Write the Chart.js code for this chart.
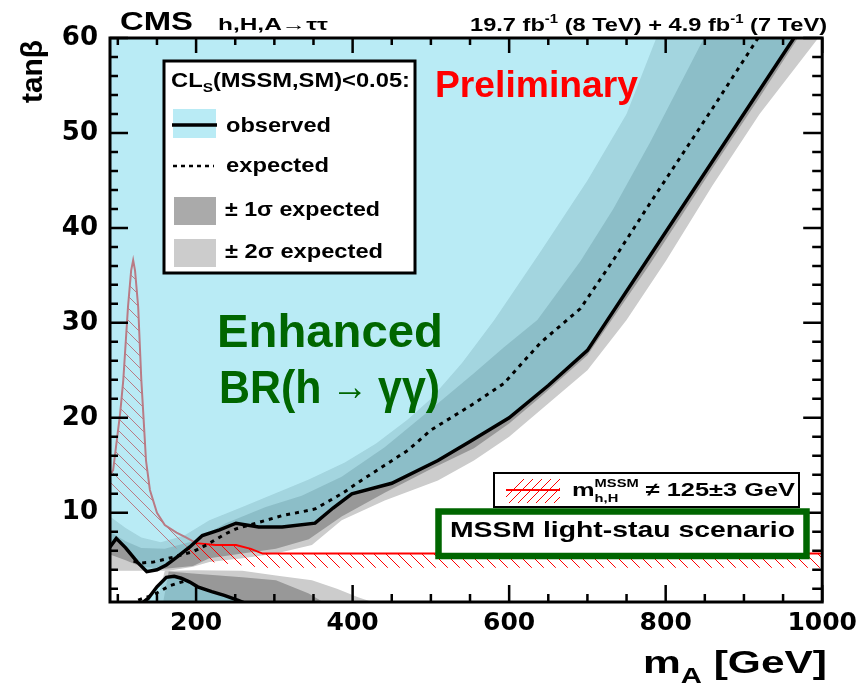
<!DOCTYPE html>
<html>
<head>
<meta charset="utf-8">
<script src="https://cdn.jsdelivr.net/npm/chart.js@4.4.1/dist/chart.umd.min.js"></script>
<style>
  html, body { margin: 0; padding: 0; background: #fff; }
  #wrap { width: 863px; height: 686px; }
</style>
</head>
<body>
<div id="wrap"><canvas id="chart" width="863" height="686"></canvas></div>
<script>
// ---- axis ranges / ticks ----
const X_MIN = 90, X_MAX = 1000, Y_MIN = 0.6, Y_MAX = 60;
const xTicks = [200, 400, 600, 800, 1000];
const yTicks = [10, 20, 30, 40, 50, 60];

// ---- observed exclusion contour (upper branch, excluded above) ----
const obsX = [90, 98, 110, 125, 137, 150, 162, 175, 192, 208, 230, 251, 280, 310, 352, 375, 399, 450, 509, 550, 600, 650, 700, 1000];
const obsY = [6.4, 7.3, 6.3, 4.8, 3.8, 4.0, 4.5, 5.3, 6.4, 7.6, 8.2, 8.9, 8.5, 8.5, 8.9, 10.5, 12.0, 13.1, 15.5, 17.5, 20.0, 23.4, 27.1, 64.5];

// observed, low tanβ island (excluded below)
const obsLoX = [128, 139, 150, 162, 172, 181, 192, 202, 220, 236, 253, 265];
const obsLoY = [0.3, 1.0, 2.2, 3.2, 3.3, 3.1, 2.7, 2.2, 1.7, 1.3, 0.8, 0.4];

// ---- expected ----
const expX = [120, 128, 145, 170, 196, 213, 238, 251, 289, 310, 335, 352, 386, 411, 441, 471, 500, 555, 593, 640, 691, 733, 780, 860, 918, 1000];
const expY = [4.9, 4.7, 4.8, 5.3, 5.9, 6.6, 7.8, 8.3, 9.2, 9.7, 10.1, 10.4, 12.0, 13.4, 15.0, 16.6, 18.7, 21.5, 23.6, 27.9, 31.5, 36.6, 42.6, 52.6, 60.0, 70.5];
const expLoX = [126, 140, 151, 166, 177, 190];
const expLoY = [0.8, 1.2, 1.6, 2.3, 2.6, 2.9];

// ---- expected bands, upper branch ----
const b2HiX = [90, 110, 130, 155, 185, 217, 259, 300, 344, 390, 430, 470, 500, 540, 581, 640, 700, 750, 788, 850];
const b2HiY = [9.6, 8.4, 7.4, 6.9, 7.6, 9.2, 10.6, 12.0, 13.5, 15.3, 17.3, 19.8, 22.0, 25.8, 30.3, 37.5, 45.0, 52.0, 60.0, 70.0];
const b1HiX = [90, 110, 130, 160, 196, 238, 289, 335, 386, 441, 500, 555, 593, 636, 691, 733, 780, 849, 900];
const b1HiY = [8.0, 7.0, 6.3, 6.2, 7.0, 8.9, 10.6, 11.8, 13.8, 16.9, 20.9, 24.7, 27.4, 30.3, 36.5, 42.0, 49.0, 60.0, 68.0];
const b1LoX = [90, 110, 130, 160, 196, 217, 259, 302, 344, 386, 441, 500, 555, 600, 640, 700, 780, 860, 918, 969, 1010];
const b1LoY = [5.6, 5.0, 4.3, 4.1, 4.4, 5.2, 5.7, 6.2, 7.2, 9.6, 12.1, 14.6, 16.8, 19.4, 22.2, 26.6, 36.2, 46.3, 53.5, 60.0, 65.0];
const b2LoX = [90, 110, 130, 165, 196, 217, 259, 302, 348, 386, 441, 509, 555, 600, 650, 700, 750, 800, 860, 920, 995, 1040];
const b2LoY = [3.9, 3.9, 3.9, 3.9, 4.3, 4.8, 5.2, 5.7, 6.6, 9.2, 11.3, 13.4, 15.5, 18.0, 21.5, 25.0, 30.3, 36.5, 44.5, 52.0, 60.0, 65.0];

// ---- expected bands, low tanβ branch (top edges, filled to the axis) ----
const lo2X = [150, 160, 200, 259, 302, 348, 380, 407, 425];
const lo2Y = [0.6, 3.9, 3.95, 3.9, 3.4, 2.9, 2.0, 1.1, 0.6];
const lo1X = [158, 165, 196, 259, 302, 344, 362];
const lo1Y = [0.6, 3.8, 3.6, 3.2, 2.9, 1.5, 0.6];

// ---- m_h != 125±3 GeV region ----
const mhTopX = [90, 94, 103, 107, 113, 117, 119.6, 122, 126, 130, 132, 136, 141, 150, 160, 175, 187, 200, 225, 251, 270, 285, 1000];
const mhTopY = [14.0, 14.5, 20.5, 24.0, 31.7, 35.5, 36.6, 35.5, 31.7, 24.0, 21.2, 15.5, 12.4, 10.0, 8.7, 7.9, 7.4, 6.8, 6.6, 6.6, 6.2, 5.7, 5.7];
const mhBotX = [90, 120, 150, 200, 285, 1000];
const mhBotY = [12.5, 10.0, 7.5, 5.0, 4.2, 4.2];

// colours
const CYAN = 'rgba(130,219,237,0.56)';
const CYAN_SOLID = '#b9ebf5';
const GREY2 = '#cccccc';
const GREY1 = '#989898';
const GREY1_KEY = '#aaaaaa';
const RED = '#ff0000';
const GREEN = '#006600';
const FONT = '"Liberation Sans", Arial, sans-serif';

// ---- helpers ----
function pts(xs, ys) { return xs.map((x, i) => ({ x, y: ys[i] })); }
function band(hiX, hiY, loX, loY) { return pts(hiX, hiY).concat(pts(loX, loY).reverse()); }
function toAxis(xs, ys) {
  return pts(xs, ys).concat([{ x: xs[xs.length - 1], y: -1 }, { x: xs[0], y: -1 }]);
}
function above(xs, ys) {
  return pts(xs, ys).concat([{ x: xs[xs.length - 1], y: 80 }, { x: xs[0], y: 80 }]);
}

function hatchPattern(ctx) {
  const s = 12;
  const c = document.createElement('canvas');
  c.width = s; c.height = s;
  const g = c.getContext('2d');
  g.strokeStyle = RED;
  g.lineWidth = 1;
  g.beginPath();
  g.moveTo(0, 0); g.lineTo(s, s);
  g.moveTo(-2, s - 2); g.lineTo(2, s + 2);
  g.moveTo(s - 2, -2); g.lineTo(s + 2, 2);
  g.stroke();
  return ctx.createPattern(c, 'repeat');
}

const area = (label, data, color, order) => ({
  label, data, order, fill: 'shape', backgroundColor: color,
  borderColor: 'rgba(0,0,0,0)', borderWidth: 0, pointRadius: 0
});
const curve = (label, data, color, width, dash, order) => ({
  label, data, order, fill: false, borderColor: color, borderWidth: width,
  borderDash: dash, borderCapStyle: 'butt', pointRadius: 0
});

// text drawn in bold, squeezed/stretched to sit between left and right
function rich(ctx, parts, left, right, base, color) {
  let w = 0;
  for (const p of parts) {
    ctx.font = `${p.w || 'bold'} ${p.size}px ${FONT}`;
    if (!p.stack) w += ctx.measureText(p.t).width;
  }
  ctx.save();
  ctx.translate(left, base);
  ctx.scale((right - left) / w, 1);
  ctx.fillStyle = color;
  ctx.textAlign = 'left';
  ctx.textBaseline = 'alphabetic';
  let cx = 0;
  for (const p of parts) {
    ctx.font = `${p.w || 'bold'} ${p.size}px ${FONT}`;
    ctx.fillText(p.t, cx, p.dy || 0);
    if (!p.stack) cx += ctx.measureText(p.t).width;
  }
  ctx.restore();
}

// frame with inward ticks, legends and labels
const decorations = {
  id: 'decorations',
  afterDraw(chart) {
    const { ctx, chartArea: a, scales: { x, y } } = chart;
    ctx.save();

    ctx.strokeStyle = '#000';
    ctx.lineWidth = 2.5;
    ctx.beginPath();
    for (let v = 100; v <= X_MAX; v += 50) {
      const px = x.getPixelForValue(v);
      const major = v % 200 === 0;
      ctx.moveTo(px, a.bottom); ctx.lineTo(px, a.bottom - (major ? 17 : 8));
      ctx.moveTo(px, a.top); ctx.lineTo(px, a.top + (major ? 15 : 7));
    }
    for (let v = 2; v <= Y_MAX; v += 2) {
      const py = y.getPixelForValue(v);
      const major = v % 10 === 0;
      ctx.moveTo(a.left, py); ctx.lineTo(a.left + (major ? 18 : 8), py);
      ctx.moveTo(a.right, py); ctx.lineTo(a.right - (major ? 19 : 10), py);
    }
    ctx.stroke();
    ctx.lineWidth = 3;
    ctx.strokeRect(a.left, a.top, a.right - a.left, a.bottom - a.top);

    // header
    rich(ctx, [{ t: 'CMS', size: 25 }], 120, 193, 30, '#000');
    rich(ctx, [{ t: 'h,H,A\u2192\u03c4\u03c4', size: 16 }], 218, 328, 30, '#000');
    rich(ctx, [
      { t: '19.7 fb', size: 19 }, { t: '-1', size: 12, dy: -8 },
      { t: ' (8 TeV) + 4.9 fb', size: 19 }, { t: '-1', size: 12, dy: -8 },
      { t: ' (7 TeV)', size: 19 }
    ], 470, 827, 31, '#000');

    // axis titles
    rich(ctx, [{ t: 'm', size: 32 }, { t: 'A', size: 22, dy: 10 }, { t: ' [GeV]', size: 32 }], 643, 827, 673, '#000');
    ctx.save();
    ctx.translate(42, 103);
    ctx.rotate(-Math.PI / 2);
    rich(ctx, [{ t: 'tan\u03b2', size: 30 }], 0, 63, 0, '#000');
    ctx.restore();

    // main legend
    ctx.fillStyle = '#fff';
    ctx.fillRect(164, 61, 251, 212);
    ctx.lineWidth = 3;
    ctx.strokeStyle = '#000';
    ctx.strokeRect(164, 61, 251, 212);
    rich(ctx, [{ t: 'CL', size: 20 }, { t: 'S', size: 13, dy: 5 }, { t: '(MSSM,SM)<0.05:', size: 20 }], 171, 410, 87, '#000');
    ctx.fillStyle = CYAN_SOLID;
    ctx.fillRect(173, 109, 43, 29);
    ctx.beginPath();
    ctx.lineWidth = 3.5;
    ctx.moveTo(172, 125); ctx.lineTo(217, 125);
    ctx.stroke();
    rich(ctx, [{ t: 'observed', size: 20 }], 226, 331, 132, '#000');
    ctx.beginPath();
    ctx.lineWidth = 2.5;
    ctx.setLineDash([4, 4]);
    ctx.moveTo(173, 166); ctx.lineTo(214, 166);
    ctx.stroke();
    ctx.setLineDash([]);
    rich(ctx, [{ t: 'expected', size: 20 }], 226, 329, 172, '#000');
    ctx.fillStyle = GREY1_KEY;
    ctx.fillRect(174, 197, 42, 28);
    rich(ctx, [{ t: '\u00b1 1\u03c3 expected', size: 20 }], 225, 380, 216, '#000');
    ctx.fillStyle = GREY2;
    ctx.fillRect(174, 239, 42, 28);
    rich(ctx, [{ t: '\u00b1 2\u03c3 expected', size: 20 }], 225, 383, 258, '#000');

    // m_h legend
    ctx.fillStyle = '#fff';
    ctx.fillRect(494, 473, 305, 34);
    ctx.lineWidth = 2;
    ctx.strokeRect(494, 473, 305, 34);
    ctx.save();
    ctx.beginPath();
    ctx.rect(506, 479, 54, 24);
    ctx.clip();
    ctx.strokeStyle = RED;
    ctx.lineWidth = 1;
    ctx.beginPath();
    for (let k = 0; k < 10; k++) {
      const x0 = 500 + k * 9;
      ctx.moveTo(x0, 503); ctx.lineTo(x0 + 24, 479);
    }
    ctx.stroke();
    ctx.restore();
    ctx.strokeStyle = RED;
    ctx.lineWidth = 2;
    ctx.beginPath();
    ctx.moveTo(506, 490); ctx.lineTo(560, 490);
    ctx.stroke();
    rich(ctx, [
      { t: 'm', size: 19 }, { t: 'h,H', size: 11, dy: 6, stack: true },
      { t: 'MSSM', size: 11, dy: -9 }, { t: ' \u2260 125\u00b13 GeV', size: 19 }
    ], 572, 795, 496, '#000');

    // scenario box
    ctx.fillStyle = '#fff';
    ctx.fillRect(438, 511, 369, 45);
    ctx.strokeStyle = GREEN;
    ctx.lineWidth = 6.5;
    ctx.strokeRect(438.5, 511.5, 368, 44.5);
    rich(ctx, [{ t: 'MSSM light-stau scenario', size: 22 }], 450, 795, 537, '#000');

    // annotations
    rich(ctx, [{ t: 'Preliminary', size: 36 }], 435, 638, 97, RED);
    rich(ctx, [{ t: 'Enhanced', size: 47 }], 217, 443, 347, GREEN);
    rich(ctx, [
      { t: 'BR(h', size: 47 }, { t: ' \u2192 ', size: 40, w: 'normal', dy: -3 },
      { t: '\u03b3\u03b3)', size: 47 }
    ], 219, 440, 403, GREEN);

    ctx.restore();
  }
};

const ctx = document.getElementById('chart').getContext('2d');

new Chart(ctx, {
  type: 'line',
  data: {
    datasets: [
      area('\u00b12\u03c3 expected', band(b2HiX, b2HiY, b2LoX, b2LoY), GREY2, 20),
      area('\u00b11\u03c3 expected', band(b1HiX, b1HiY, b1LoX, b1LoY), GREY1, 19),
      area('\u00b12\u03c3 expected (low)', toAxis(lo2X, lo2Y), GREY2, 18),
      area('\u00b11\u03c3 expected (low)', toAxis(lo1X, lo1Y), GREY1, 17),
      area('m_h hatch', band(mhTopX, mhTopY, mhBotX, mhBotY), hatchPattern(ctx), 16),
      curve('m_h edge', pts(mhTopX, mhTopY), RED, 2, [], 15),
      area('observed excluded', above(obsX, obsY), CYAN, 14),
      area('observed excluded (low)', toAxis(obsLoX, obsLoY), CYAN, 13),
      curve('expected', pts(expX, expY), '#000', 3, [4, 5], 3),
      curve('expected (low)', pts(expLoX, expLoY), '#000', 3, [4, 5], 3),
      curve('observed', pts(obsX, obsY), '#000', 3.5, [], 1),
      curve('observed (low)', pts(obsLoX, obsLoY), '#000', 3.5, [], 1)
    ]
  },
  options: {
    responsive: false,
    animation: false,
    events: [],
    layout: { padding: { top: 38, right: 36, left: 0, bottom: 0 } },
    plugins: { legend: { display: false }, tooltip: { enabled: false } },
    elements: { line: { tension: 0 } },
    scales: {
      x: {
        type: 'linear', min: X_MIN, max: X_MAX,
        afterBuildTicks: s => { s.ticks = xTicks.map(v => ({ value: v })); },
        afterFit: s => { s.height = 84; },
        grid: { display: false, drawTicks: false },
        border: { display: false },
        ticks: {
          callback: v => String(v), color: '#000', padding: 6,
          maxRotation: 0, autoSkip: false,
          font: { family: 'DejaVu Sans', weight: 'bold', size: 25 }
        }
      },
      y: {
        type: 'linear', min: Y_MIN, max: Y_MAX,
        afterBuildTicks: s => { s.ticks = yTicks.map(v => ({ value: v })); },
        afterFit: s => { s.width = 110; },
        grid: { display: false, drawTicks: false },
        border: { display: false },
        ticks: {
          callback: v => String(v), color: '#000', padding: 12,
          font: { family: 'DejaVu Sans', weight: 'bold', size: 26 }
        }
      }
    }
  },
  plugins: [decorations]
});
</script>
</body>
</html>
